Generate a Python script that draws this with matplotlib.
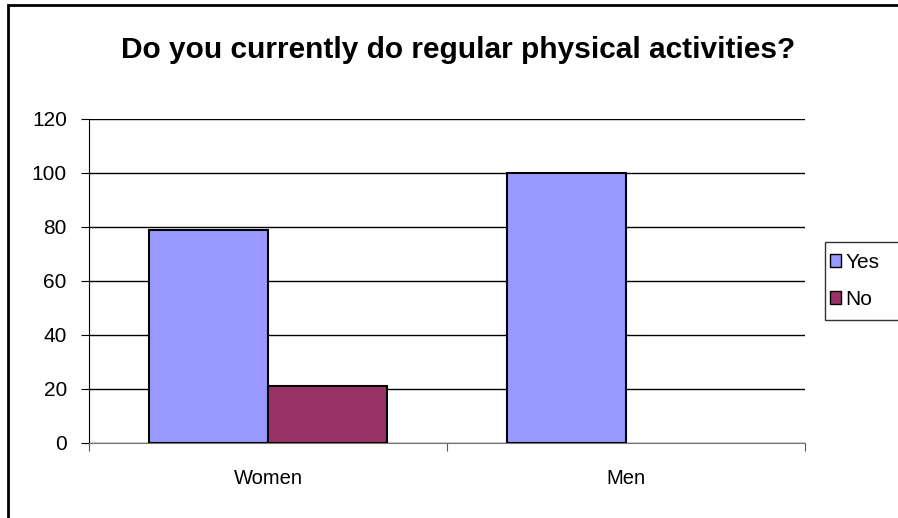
import matplotlib
matplotlib.use("Agg")
import matplotlib.pyplot as plt
from matplotlib.patches import Rectangle
import numpy as np

categories = ["Women", "Men"]
series_names = ["Yes", "No"]
yes_values = [79, 100]
no_values = [21, 0]
y_ticks = [0, 20, 40, 60, 80, 100, 120]
title = "Do you currently do regular physical activities?"

colors = {"Yes": "#9999FF", "No": "#993366"}

plt.rcParams["font.family"] = ["Liberation Sans", "DejaVu Sans"]

fig = plt.figure(figsize=(8.98, 5.18), dpi=100)
fig.patch.set_facecolor("white")

W, H = 898, 518

# outer chart frame (runs off the right and bottom edges)
fig.patches.append(Rectangle((8 / W, -0.1), 1.2, 1 - 5 / H + 0.1,
                             transform=fig.transFigure, fill=False,
                             edgecolor="black", linewidth=2, zorder=0))

ax = fig.add_axes([89 / W, 1 - 443 / H, (805 - 89) / W, (443 - 119) / H])

x = np.arange(len(categories))
bar_w = 1 / 3
for offset, name, values in ((-bar_w / 2, "Yes", yes_values),
                             (bar_w / 2, "No", no_values)):
    bars = ax.bar(x + offset, values, width=bar_w, color=colors[name],
                  edgecolor="black", linewidth=1.5, label=name, zorder=3)
    # empty bars leave no outline on the baseline
    for b, v in zip(bars, values):
        if v == 0:
            b.set_linewidth(0)

ax.set_xlim(-0.5, len(categories) - 0.5)
ax.set_ylim(0, 120)
ax.set_yticks(y_ticks)
ax.set_yticklabels([str(v) for v in y_ticks], fontsize=15)
ax.yaxis.grid(True, color="black", linewidth=1, zorder=0)
ax.set_axisbelow(True)

# category labels sit between boundary ticks
ax.set_xticks(np.arange(len(categories) + 1) - 0.5)
ax.set_xticklabels([])
ax.set_xticks(x, minor=True)
ax.set_xticklabels(categories, minor=True, fontsize=14.5)
ax.tick_params(axis="x", which="minor", length=0, pad=19)
ax.tick_params(axis="x", which="major", length=6, direction="out", color="#555555")
ax.tick_params(axis="y", length=6, direction="out", pad=10)

for side in ("top", "right"):
    ax.spines[side].set_visible(False)
ax.spines["left"].set_color("black")
ax.spines["bottom"].set_color("#777777")

fig.text(458 / W, 1 - 50 / H, title, ha="center", va="center",
         fontsize=21.5, fontweight="bold")

# legend box, running past the right edge
fig.patches.append(Rectangle((825 / W, 1 - 320 / H), 90 / W, 78 / H,
                             transform=fig.transFigure, facecolor="white",
                             edgecolor="#333333", linewidth=1, zorder=1))
leg = fig.legend(loc="upper left", bbox_to_anchor=(830 / W, 1 - 253 / H),
                 fontsize=15, frameon=False,
                 handlelength=0.55, handleheight=0.55, handletextpad=0.2,
                 borderpad=0.0, labelspacing=0.85, borderaxespad=0)
leg.set_zorder(2)
for h in leg.legend_handles:
    h.set_linewidth(1)
    h.set_edgecolor("black")

fig.savefig("out.png", dpi=100)
